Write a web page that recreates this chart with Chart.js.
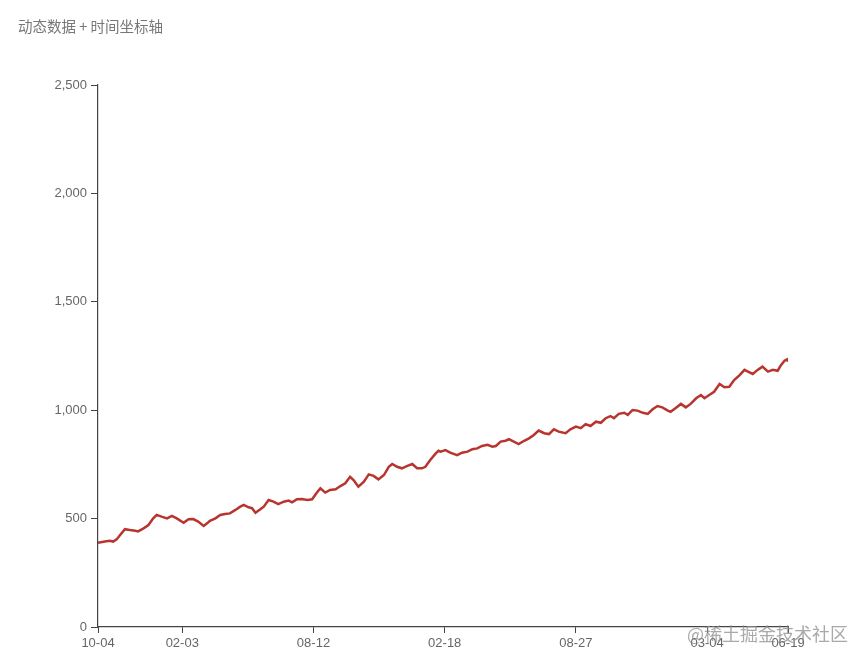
<!DOCTYPE html>
<html>
<head>
<meta charset="utf-8">
<title>动态数据 + 时间坐标轴</title>
<script src="https://cdn.jsdelivr.net/npm/chart.js@4.4.0/dist/chart.umd.min.js"></script>
<style>
  html, body { margin: 0; padding: 0; background: #fff; }
  #wrap { width: 856px; height: 650px; position: relative; }
</style>
</head>
<body>
<div id="wrap">
  <canvas id="chart" width="856" height="650"></canvas>
</div>
<script>
// chart title and watermark
const titleText = "动态数据 + 时间坐标轴";
const watermarkText = "@稀土掘金技术社区";

// x axis: days since first point, and the date labels shown on it
const tickDays = [0, 122, 312, 502, 692, 882, 999];
const tickLabels = ["10-04", "02-03", "08-12", "02-18", "08-27", "03-04", "06-19"];

// y axis ticks
const yTicks = [0, 500, 1000, 1500, 2000, 2500];

// series: day offset and value
const days = [
  0, 10, 17, 22, 27, 32, 39, 46, 54, 58, 66, 73, 80, 85, 92, 100, 107, 114, 124, 131, 138, 145, 153, 158,
  162, 170, 177, 184, 191, 199, 206, 211, 218, 223, 228, 235, 240, 247, 254, 261, 269, 276, 281, 288, 295, 303, 310, 317, 322,
  329, 336, 344, 351, 358, 365, 370, 377, 385, 392, 399, 406, 414, 421, 426, 433, 440, 448, 455, 462, 469, 474, 481, 489, 493,
  496, 503, 510, 520, 527, 535, 542, 549, 556, 564, 571, 576, 583, 590, 595, 602, 609, 617, 624, 631, 638, 646, 653, 660,
  667, 677, 684, 692, 699, 706, 713, 721, 728, 735, 742, 747, 754, 762, 767, 774, 781, 789, 796, 803, 810, 817, 825,
  829, 836, 844, 851, 858, 866, 873, 878, 885, 892, 900, 907, 914, 921, 929, 936, 941, 948, 955, 962, 970, 977, 984, 989, 994, 998, 999
];
const values = [
  389, 394, 398, 394, 404, 424, 451, 447, 444, 441, 455, 470, 501, 517, 509, 501, 512, 501, 481, 497, 498, 486, 466, 478,
  490, 501, 517, 521, 524, 540, 555, 563, 552, 548, 527, 543, 555, 586, 578, 567, 578, 583, 575, 589, 590, 586, 589, 620, 640,
  620, 632, 635, 650, 663, 693, 678, 647, 670, 704, 697, 681, 701, 739, 752, 739, 732, 743, 752, 732, 732, 739, 770, 801, 813,
  809, 816, 804, 793, 804, 809, 820, 824, 835, 840, 832, 835, 855, 859, 866, 855, 844, 859, 870, 886, 906, 894, 890, 912,
  901, 894, 912, 924, 917, 936, 927, 947, 942, 963, 973, 963, 983, 988, 978, 1001, 998, 988, 983, 1004, 1019, 1013, 998,
  993, 1009, 1029, 1013, 1029, 1055, 1070, 1055, 1070, 1085, 1121, 1106, 1108, 1139, 1162, 1186, 1178, 1167, 1186, 1201, 1178, 1186, 1182, 1209, 1228, 1235, 1224
];

const points = days.map((d, i) => ({ x: d, y: values[i] }));

// draws the small title top-left and the watermark bottom-right
const textPlugin = {
  id: "textPlugin",
  afterDraw(chart) {
    const ctx = chart.ctx;
    ctx.save();
    ctx.textBaseline = "middle";
    ctx.font = "14.5px 'Noto Sans CJK SC', sans-serif";
    ctx.fillStyle = "#777";
    ctx.textAlign = "left";
    ctx.fillText(titleText, 18, 26);

    ctx.font = "18px 'Noto Sans CJK SC', sans-serif";
    ctx.fillStyle = "rgba(140, 140, 140, 0.75)";
    ctx.textAlign = "right";
    ctx.fillText(watermarkText, 848, 634);
    ctx.restore();
  },
};

const axisFont = { family: "'Liberation Sans', Arial, sans-serif", size: 13 };

new Chart(document.getElementById("chart").getContext("2d"), {
  type: "line",
  data: {
    datasets: [
      {
        label: "模拟数据",
        data: points,
        borderColor: "#b8352e",
        backgroundColor: "#b8352e",
        borderWidth: 2.5,
        pointRadius: 0,
        tension: 0,
        fill: false,
      },
    ],
  },
  options: {
    responsive: false,
    animation: false,
    layout: {
      padding: { top: 85, right: 68, left: 0, bottom: 0 },
    },
    plugins: {
      legend: { display: false },
      tooltip: { enabled: false },
      title: { display: false },
    },
    scales: {
      x: {
        type: "linear",
        min: tickDays[0],
        max: tickDays[tickDays.length - 1],
        afterBuildTicks: (scale) => {
          scale.ticks = tickDays.map((v) => ({ value: v }));
        },
        afterFit: (scale) => {
          scale.height = 23;
        },
        ticks: {
          autoSkip: false,
          maxRotation: 0,
          padding: 3,
          color: "#666",
          font: axisFont,
          callback: (value, index) => tickLabels[index],
        },
        grid: {
          drawOnChartArea: false,
          drawTicks: true,
          tickLength: 6,
          tickColor: "#444",
        },
        border: { color: "#444", width: 1.2 },
      },
      y: {
        min: yTicks[0],
        max: yTicks[yTicks.length - 1],
        afterBuildTicks: (scale) => {
          scale.ticks = yTicks.map((v) => ({ value: v }));
        },
        afterFit: (scale) => {
          scale.width = 98;
        },
        ticks: {
          padding: 4,
          color: "#666",
          font: axisFont,
          callback: (value) => value.toLocaleString("en-US"),
        },
        grid: {
          drawOnChartArea: false,
          drawTicks: true,
          tickLength: 7,
          tickColor: "#444",
        },
        border: { color: "#444", width: 1.2 },
      },
    },
  },
  plugins: [textPlugin],
});
</script>
</body>
</html>
